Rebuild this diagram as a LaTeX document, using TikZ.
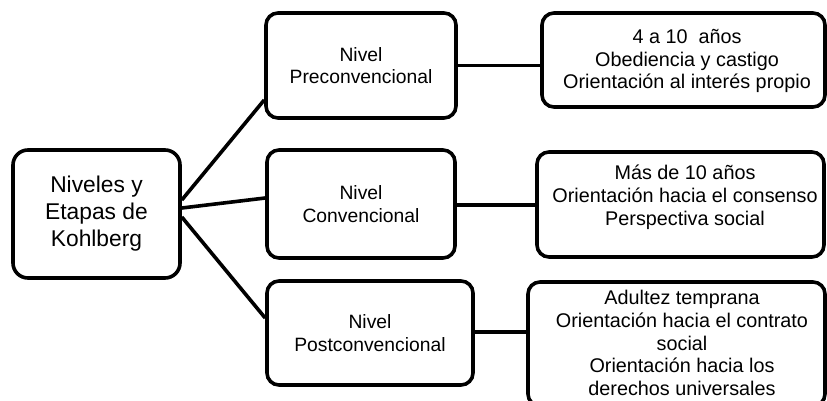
\documentclass[tikz,border=0pt]{standalone}
\usepackage{fontspec}
\setmainfont{Liberation Sans}
\begin{document}
\begin{tikzpicture}[x=1pt,y=-1pt,
  box/.style={draw=black, line width=3.6pt, rounded corners=12pt, fill=white, inner sep=0pt},
  mainbox/.style={box, rounded corners=15pt, align=center, font=\fontsize{22.8}{27}\selectfont},
  lvlbox/.style={box, align=center, font=\fontsize{19.3}{22.5}\selectfont},
  txt/.style={align=center, inner sep=0pt, font=\fontsize{19.8}{22.8}\selectfont},
  conn/.style={draw=black, line width=3.6pt}]
\useasboundingbox (0,0) rectangle (827,400);

\node[mainbox, minimum width=167pt, minimum height=128pt] (main) at (96.5,214) {Niveles y\\Etapas de\\Kohlberg};

\node[lvlbox, minimum width=190pt, minimum height=105pt] (p1) at (361,65.5) {Nivel\\Preconvencional};
\node[lvlbox, minimum width=188pt, minimum height=108pt] (p2) at (361,204) {Nivel\\Convencional};
\node[lvlbox, minimum width=206pt, minimum height=104pt] (p3) at (370,333) {Nivel\\Postconvencional};

\node[box, minimum width=283pt, minimum height=94pt] (r1) at (683.5,60) {};
\node[box, minimum width=287pt, minimum height=105pt] (r2) at (680.5,204.5) {};
\node[box, minimum width=297pt, minimum height=124pt] (r3) at (676.5,344) {};

\node[txt] (r1t) at (687,61) {4 a 10\ \ años\\Obediencia y castigo\\Orientación al interés propio};
\node[txt] (r2t) at (685,197) {Más de 10 años\\Orientación hacia el consenso\\Perspectiva social};
\node[txt] (r3t) at (682,343) {Adultez temprana\\Orientación hacia el contrato\\social\\Orientación hacia los\\derechos universales};

\draw[conn] ([yshift=14pt]main.east) -- ([yshift=-34.5pt]p1.west);
\draw[conn] ([yshift=6pt]main.east) -- ([yshift=6pt]p2.west);
\draw[conn] ([yshift=-3pt]main.east) -- ([yshift=15pt]p3.west);

\draw[conn] (p1.east) -- (p1.east -| r1.west);
\draw[conn] ([yshift=-1pt]p2.east) -- ([yshift=-1pt]p2.east -| r2.west);
\draw[conn] ([yshift=1pt]p3.east) -- ([yshift=1pt]p3.east -| r3.west);
\end{tikzpicture}
\end{document}
